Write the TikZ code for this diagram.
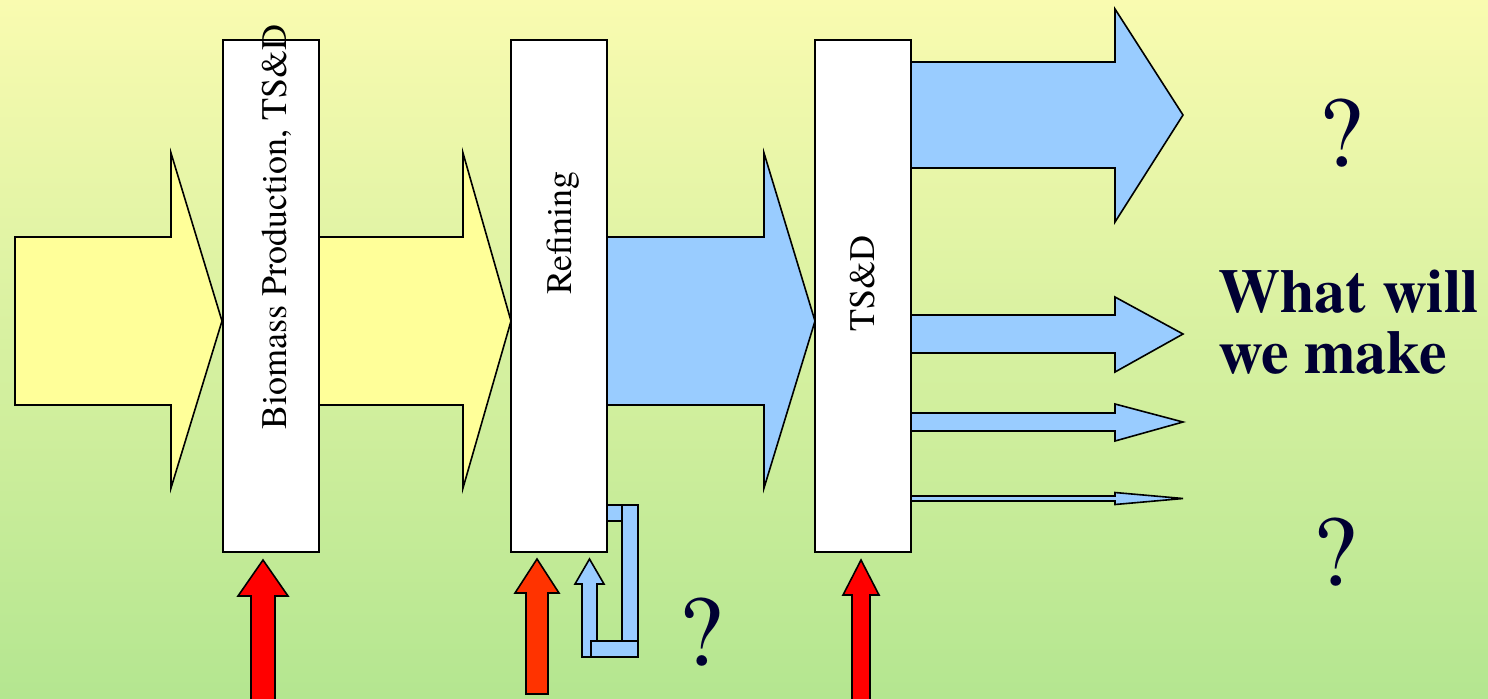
\documentclass[tikz,border=0pt]{standalone}
\usepackage{fontspec}
\setmainfont{TeX Gyre Termes}
\definecolor{bgtop}{RGB}{249,251,176}
\definecolor{bgbot}{RGB}{180,230,144}
\definecolor{yfill}{RGB}{255,255,153}
\definecolor{bfill}{RGB}{153,204,255}
\definecolor{navy}{RGB}{0,0,51}
\definecolor{redA}{RGB}{255,0,0}
\definecolor{redB}{RGB}{255,51,0}
\begin{document}
\begin{tikzpicture}[x=0.5pt,y=-0.5pt,
  box/.style={draw=black,line width=1pt,fill=white,minimum width=48pt,minimum height=256pt,inner sep=0pt},
  shapeline/.style={draw=black,line width=0.8pt,line join=miter},
  yarrow/.style={shapeline,fill=yfill},
  barrow/.style={shapeline,fill=bfill},
  rarrowA/.style={shapeline,fill=redA},
  rarrowB/.style={shapeline,fill=redB},
  boxtext/.style={rotate=90,anchor=west,inner sep=0pt,font=\fontsize{18}{20}\selectfont},
  qmark/.style={text=navy,font=\fontsize{50}{55}\selectfont,inner sep=0pt,anchor=base}]
\useasboundingbox (0,0) rectangle (1488,698);
\shade[top color=bgtop,bottom color=bgbot] (0,0) rectangle (1488,698);
\clip (0,0) rectangle (1488,698);

\coordinate (c1) at (271,296);
\coordinate (c2) at (558.5,296);
\coordinate (c3) at (863,296);

% big horizontal arrows
\path[yarrow] (15,237) -- (171,237) -- (171,153) -- (222,321) -- (171,488) -- (171,405) -- (15,405) -- cycle;
\path[yarrow] (300,237) -- (463,237) -- (463,153) -- (511,321) -- (463,488) -- (463,405) -- (300,405) -- cycle;
\path[barrow] (590,237) -- (764,237) -- (764,153) -- (815,321) -- (764,488) -- (764,405) -- (590,405) -- cycle;

% output arrows
\path[barrow] (900,62) -- (1115,62) -- (1115,9) -- (1183,115) -- (1115,222) -- (1115,168) -- (900,168) -- cycle;
\path[barrow] (900,315) -- (1115,315) -- (1115,297) -- (1183,334) -- (1115,372) -- (1115,353) -- (900,353) -- cycle;
\path[barrow] (900,413) -- (1115,413) -- (1115,404) -- (1183,422) -- (1115,441) -- (1115,431) -- (900,431) -- cycle;
\path[barrow] (900,496) -- (1115,496) -- (1115,492.5) -- (1183,498.5) -- (1115,504.5) -- (1115,501) -- (900,501) -- cycle;

% return loop under Refining
\path[barrow] (598,505) rectangle (622,521);
\path[barrow] (622,505) rectangle (638,648);
\path[barrow] (582,657) -- (582,584) -- (575,584) -- (589.5,559) -- (604,584) -- (597,584) -- (597,657) -- cycle;
\path[barrow] (591,641) rectangle (638,657);

% boxes
\node[box] (b1) at (c1) {};
\node[box] (b2) at (c2) {};
\node[box] (b3) at (c3) {};

\node[boxtext] (t1) at (276.5,430) {Biomass Production, TS\&D};
\node[boxtext] (t2) at (563.5,295) {Refining};
\node[boxtext] (t3) at (862.5,332) {TS\&D};

% red input arrows
\path[rarrowA] (263,560) -- (288,596) -- (275,596) -- (275,710) -- (251,710) -- (251,596) -- (238,596) -- cycle;
\path[rarrowB] (537,559) -- (559,593) -- (548,593) -- (548,694) -- (526,694) -- (526,593) -- (515,593) -- cycle;
\path[rarrowA] (861,560) -- (879,595) -- (870,595) -- (870,710) -- (852,710) -- (852,595) -- (843,595) -- cycle;

% texts
\node[anchor=base west,align=left,inner sep=0pt,text=navy,font=\bfseries\fontsize{31}{30.5}\selectfont] (what) at (1218,373) {What will\\we make};
\node[qmark] (q1) at (1341,166) {?};
\node[qmark] (q2) at (1335,585) {?};
\node[qmark] (q3) at (701,665) {?};
\end{tikzpicture}
\end{document}
